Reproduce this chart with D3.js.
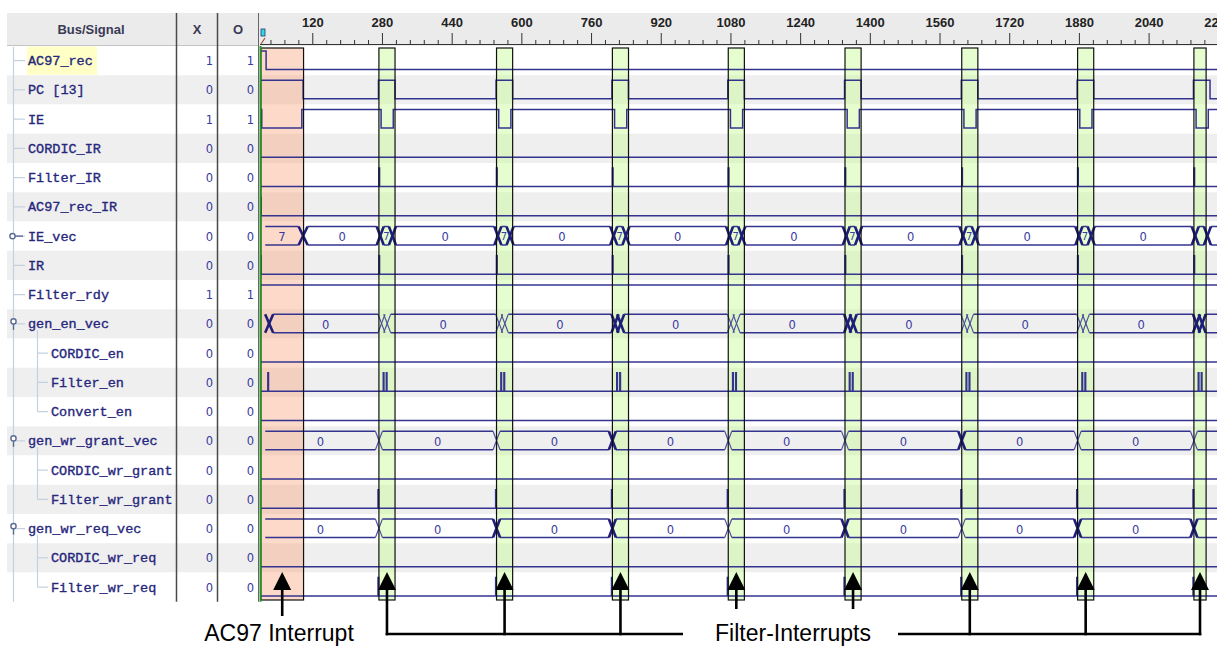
<!DOCTYPE html>
<html>
<head>
<meta charset="utf-8">
<script src="https://cdn.jsdelivr.net/npm/d3@7"></script>
<style>
  body { margin: 0; background: #fff; }
  svg { display: block; }
</style>
</head>
<body>
<div id="chart"></div>
<script>
const signalNames = ["AC97_rec", "PC [13]", "IE", "CORDIC_IR", "Filter_IR", "AC97_rec_IR", "IE_vec", "IR",
  "Filter_rdy", "gen_en_vec", "CORDIC_en", "Filter_en", "Convert_en", "gen_wr_grant_vec", "CORDIC_wr_grant",
  "Filter_wr_grant", "gen_wr_req_vec", "CORDIC_wr_req", "Filter_wr_req"];
const signalDepth = [0, 0, 0, 0, 0, 0, 0, 0, 0, 0, 1, 1, 1, 0, 1, 1, 0, 1, 1];
const xValues = [1, 0, 1, 0, 0, 0, 0, 0, 1, 0, 0, 0, 0, 0, 0, 0, 0, 0, 0];
const oValues = [1, 0, 1, 0, 0, 0, 0, 0, 1, 0, 0, 0, 0, 0, 0, 0, 0, 0, 0];
const rulerTicks = [120, 280, 440, 600, 760, 920, 1080, 1240, 1400, 1560, 1720, 1880, 2040, 2200];

// filter interrupt start times (sample units) and box lengths
const irqTimes = [273, 543, 809, 1075, 1343, 1611, 1877, 2144];
const irqBoxLen = [37, 37, 37, 37, 37, 37, 37, 28];
const ac97Span = [2, 100];

// which bus transitions render heavy in the capture
const enBold = [0, 0, 1, 0, 1, 0, 0, 1];
const grantBold = [0, 0, 1, 0, 0, 1, 0, 0];
const reqBold = [0, 1, 1, 0, 1, 0, 1, 1];

// ---- layout ----
const W = 1227, H = 646;
const left = 7, nameRight = 176, xRight = 217, oRight = 258;
const waveLeft = 260, waveRight = 1217;
const headTop = 13, headBottom = 46, rowH = 29.25;
const tableBottom = headBottom + rowH * signalNames.length;
const C = "#34348f";

const svg = d3.select("#chart").append("svg").attr("width", W).attr("height", H);

const x = d3.scaleLinear().domain([0, 2200]).range([waveLeft, 1218.3]);
const y = d3.scaleBand().domain(d3.range(signalNames.length)).range([headBottom, tableBottom]);

svg.append("defs").append("clipPath").attr("id", "wclip")
  .append("rect").attr("x", waveLeft).attr("y", 0).attr("width", waveRight - waveLeft).attr("height", H);

// header band
svg.append("rect").attr("x", left).attr("y", headTop).attr("width", waveRight - left).attr("height", headBottom - headTop)
  .attr("fill", "#ebebeb");
svg.append("line").attr("x1", left).attr("x2", oRight).attr("y1", headBottom - 0.5).attr("y2", headBottom - 0.5)
  .attr("stroke", "#c4c4c4");

// rows
svg.selectAll("rect.row").data(signalNames).join("rect").attr("class", "row")
  .attr("x", left).attr("y", (d, i) => y(i)).attr("width", waveRight - left).attr("height", rowH)
  .attr("fill", (d, i) => i % 2 ? "#efefef" : "#ffffff");

// header text
const head = svg.append("g").attr("font-family", "'Liberation Sans', Arial, sans-serif")
  .attr("font-weight", "bold").attr("font-size", 13).attr("fill", "#3a3a55").attr("text-anchor", "middle");
head.append("text").attr("x", 91).attr("y", 34).text("Bus/Signal");
head.append("text").attr("x", 197).attr("y", 34).text("X");
head.append("text").attr("x", 238).attr("y", 34).text("O");

// tree lines
const tree = svg.append("g").attr("stroke", "#c3d0de").attr("stroke-width", 1.2).attr("fill", "none");
tree.append("line").attr("x1", 13.5).attr("x2", 13.5).attr("y1", headBottom + 1).attr("y2", tableBottom);
signalNames.forEach((n, i) => {
  const cy = y(i) + rowH / 2;
  if (signalDepth[i] === 0) {
    tree.append("line").attr("x1", 13.5).attr("x2", 25).attr("y1", cy).attr("y2", cy);
  } else {
    tree.append("line").attr("x1", 37.5).attr("x2", 48).attr("y1", cy).attr("y2", cy);
  }
});
[[9, 12], [13, 15], [16, 18]].forEach(([p, last]) => {
  tree.append("line").attr("x1", 37.5).attr("x2", 37.5)
    .attr("y1", y(p) + rowH / 2 + 6).attr("y2", y(last) + rowH / 2);
});
// bus icons
const icon = svg.append("g").attr("stroke", "#5a6b94").attr("stroke-width", 1.4).attr("fill", "#fff");
icon.append("line").attr("x1", 15).attr("x2", 23).attr("y1", y(6) + rowH / 2).attr("y2", y(6) + rowH / 2);
icon.append("circle").attr("cx", 12.5).attr("cy", y(6) + rowH / 2).attr("r", 2.6);
[9, 13, 16].forEach(i => {
  const cy = y(i) + rowH / 2 - 2;
  icon.append("line").attr("x1", 13.5).attr("x2", 13.5).attr("y1", cy + 2).attr("y2", cy + 8);
  icon.append("circle").attr("cx", 13.5).attr("cy", cy - 0.5).attr("r", 2.6);
});

// highlight behind the selected name
svg.append("rect").attr("x", 27).attr("y", y(0) + 0.5).attr("width", 70).attr("height", rowH - 1).attr("fill", "#ffffc6");

// names
svg.append("g").selectAll("text").data(signalNames).join("text")
  .attr("x", (d, i) => signalDepth[i] ? 51 : 28)
  .attr("y", (d, i) => y(i) + 19)
  .attr("font-family", "'Liberation Mono', 'Courier New', monospace")
  .attr("font-size", 13.5).attr("fill", "#26267c")
  .attr("stroke", "#26267c").attr("stroke-width", 0.35)
  .text(d => d);

// X / O columns
const vals = svg.append("g").attr("font-family", "'DejaVu Sans', sans-serif").attr("font-size", 11.5)
  .attr("fill", "#3a3aa0").attr("text-anchor", "end");
vals.selectAll("text.xv").data(xValues).join("text").attr("class", "xv")
  .attr("x", 213).attr("y", (d, i) => y(i) + 19).text(d => d);
vals.selectAll("text.ov").data(oValues).join("text").attr("class", "ov")
  .attr("x", 254).attr("y", (d, i) => y(i) + 19).text(d => d);

// column separators
[nameRight, xRight].forEach(cx => {
  svg.append("line").attr("x1", cx + 0.5).attr("x2", cx + 0.5).attr("y1", headTop).attr("y2", tableBottom)
    .attr("stroke", "#4a4a4a").attr("stroke-width", 1.5);
});
svg.append("line").attr("x1", oRight + 0.5).attr("x2", oRight + 0.5).attr("y1", headTop).attr("y2", tableBottom)
  .attr("stroke", "#666").attr("stroke-width", 1);

// ---- ruler ----
const ruler = svg.append("g").attr("clip-path", "url(#wclip)");
const minorTicks = d3.range(24, 2230, 32).filter(t => !rulerTicks.includes(t));
ruler.append("g").attr("transform", "translate(0,44)")
  .call(d3.axisTop(x).tickValues(minorTicks).tickSize(4).tickFormat(""))
  .call(g => g.select(".domain").remove())
  .call(g => g.selectAll("line").attr("stroke", "#333"));
ruler.append("g").attr("transform", "translate(0,44)")
  .call(d3.axisTop(x).tickValues(rulerTicks).tickSize(11).tickPadding(6).tickFormat(d3.format("d")))
  .call(g => g.select(".domain").remove())
  .call(g => g.selectAll("line").attr("stroke", "#333"))
  .call(g => g.selectAll("text").attr("font-family", "'Liberation Sans', Arial, sans-serif")
    .attr("font-weight", "bold").attr("font-size", 13).attr("fill", "#222"));
ruler.append("line").attr("x1", waveLeft).attr("x2", waveRight).attr("y1", 44.5).attr("y2", 44.5)
  .attr("stroke", "#333").attr("stroke-width", 1.2);
// trigger cursor marker
svg.append("rect").attr("x", 261).attr("y", 29).attr("width", 4).attr("height", 7)
  .attr("fill", "#2fd8ea").attr("stroke", "#2a3a6a").attr("stroke-width", 0.8);
svg.append("line").attr("x1", 261).attr("x2", 265).attr("y1", 44).attr("y2", 38)
  .attr("stroke", "#a05030").attr("stroke-width", 1.2);

// ---- waveforms ----
const wave = svg.append("g").attr("clip-path", "url(#wclip)");

// highlight boxes (fill first, outline later)
const boxes = irqTimes.map((t, i) => [t, t + irqBoxLen[i]]);
const boxTop = 48, boxBottom = 600;
wave.append("rect").attr("x", x(ac97Span[0])).attr("y", boxTop).attr("width", x(ac97Span[1]) - x(ac97Span[0]))
  .attr("height", boxBottom - boxTop).attr("fill", "#f99f78").attr("fill-opacity", 0.4);
wave.selectAll("rect.irq").data(boxes).join("rect").attr("class", "irq")
  .attr("x", d => x(d[0])).attr("y", boxTop).attr("width", d => x(d[1]) - x(d[0])).attr("height", boxBottom - boxTop)
  .attr("fill", "#c8fb96").attr("fill-opacity", 0.45);

const pulse = ts => ts.flatMap(t => [t, t + 1.5]);
const bits = {
  "AC97_rec": { init: 1, edges: [14] },
  "PC [13]": { init: 1, edges: [99, ...irqTimes.flatMap(t => [t - 1, t + 37])] },
  "IE": { init: 1, edges: [4, 96, ...irqTimes.flatMap(t => [t + 5, t + 33])] },
  "CORDIC_IR": { init: 0, edges: [] },
  "Filter_IR": { init: 0, edges: pulse(irqTimes) },
  "AC97_rec_IR": { init: 0, edges: pulse([1]) },
  "IR": { init: 0, edges: pulse([1, ...irqTimes]) },
  "Filter_rdy": { init: 1, edges: [] },
  "CORDIC_en": { init: 0, edges: [] },
  "Filter_en": { init: 0, edges: pulse([18, ...irqTimes.flatMap(t => [t + 10, t + 17])]) },
  "Convert_en": { init: 0, edges: [] },
  "CORDIC_wr_grant": { init: 0, edges: [] },
  "Filter_wr_grant": { init: 0, edges: pulse(irqTimes.map(t => t - 2)) },
  "CORDIC_wr_req": { init: 0, edges: [] },
  "Filter_wr_req": { init: 0, edges: pulse(irqTimes.map(t => t - 2)) }
};
const buses = {
  "IE_vec": { start: 12, label: "7", trans: [{ t: 99, v: "0", bold: 1, hw: 4.5 },
    ...irqTimes.flatMap(t => [{ t: t + 3, v: "7", bold: 1 }, { t: t + 31, v: "0", bold: 1 }])] },
  "gen_en_vec": { start: 12, label: "", trans: [{ t: 21, v: "0", bold: 1, hw: 4 },
    ...irqTimes.flatMap((t, i) => [{ t: t + 6, v: "", bold: enBold[i] }, { t: t + 19, v: "0", bold: enBold[i] }])] },
  "gen_wr_grant_vec": { start: 12, label: "0", trans: irqTimes.map((t, i) => ({ t: t, v: "0", bold: grantBold[i] })) },
  "gen_wr_req_vec": { start: 12, label: "0", trans: irqTimes.map((t, i) => ({ t: t, v: "0", bold: reqBold[i] })) }
};

const line = d3.line();
signalNames.forEach((name, i) => {
  const top = y(i), hi = top + 5, lo = top + 23.5;
  if (bits[name]) {
    const b = bits[name];
    let lv = b.init;
    const lvY = v => v ? hi : lo;
    const pts = [[x(0), lvY(lv)]];
    b.edges.forEach(e => {
      pts.push([x(e), lvY(lv)]);
      lv = 1 - lv;
      pts.push([x(e), lvY(lv)]);
    });
    pts.push([x(2300), lvY(lv)]);
    wave.append("path").attr("d", line(pts)).attr("fill", "none").attr("stroke", C).attr("stroke-width", 1.5);
  } else if (buses[name]) {
    const b = buses[name];
    const bounds = [{ x: x(b.start), hw: 0, v: b.label }]
      .concat(b.trans.map(d => ({ x: x(d.t), hw: d.hw || 3.5, v: d.v, bold: d.bold })))
      .concat([{ x: x(2300), hw: 0 }]);
    const g = wave.append("g");
    bounds.forEach((d, k) => {
      if (k === bounds.length - 1) return;
      const n = bounds[k + 1];
      const x0 = d.x + d.hw, x1 = n.x - n.hw;
      if (x1 > x0) {
        [hi, lo].forEach(yy => g.append("line").attr("x1", x0).attr("x2", x1).attr("y1", yy).attr("y2", yy)
          .attr("stroke", C).attr("stroke-width", 1.5));
      }
      // value label
      const visR = Math.min(x1, waveRight);
      if (d.v && visR - x0 > 4 && n.x < waveRight - 12) {
        const small = visR - x0 < 14;
        g.append("text").attr("x", (x0 + visR) / 2).attr("y", top + (small ? 18.5 : 19.5))
          .attr("text-anchor", "middle").attr("font-family", "'DejaVu Sans', sans-serif")
          .attr("font-size", small ? 10 : 11.5).attr("fill", "#3a3aa0").text(d.v);
      }
      if (k > 0) {
        const sw = d.bold ? 2.6 : 1.1, col = d.bold ? "#1e1e7a" : "#4b4b9e";
        g.append("line").attr("x1", d.x - d.hw).attr("y1", hi).attr("x2", d.x + d.hw).attr("y2", lo)
          .attr("stroke", col).attr("stroke-width", sw);
        g.append("line").attr("x1", d.x - d.hw).attr("y1", lo).attr("x2", d.x + d.hw).attr("y2", hi)
          .attr("stroke", col).attr("stroke-width", sw);
      }
    });
  }
});

// box outlines
wave.append("rect").attr("x", x(ac97Span[0])).attr("y", boxTop).attr("width", x(ac97Span[1]) - x(ac97Span[0]))
  .attr("height", boxBottom - boxTop).attr("fill", "none").attr("stroke", "#111").attr("stroke-width", 1.2);
wave.selectAll("rect.irqo").data(boxes).join("rect").attr("class", "irqo")
  .attr("x", d => x(d[0])).attr("y", boxTop).attr("width", d => x(d[1]) - x(d[0])).attr("height", boxBottom - boxTop)
  .attr("fill", "none").attr("stroke", "#111").attr("stroke-width", 1.2);

// trigger line
svg.append("line").attr("x1", waveLeft + 0.5).attr("x2", waveLeft + 0.5).attr("y1", headBottom).attr("y2", tableBottom)
  .attr("stroke", "#1f9a1f").attr("stroke-width", 2);

// ---- annotations ----
const ann = svg.append("g");
const tipY = 572, baseY = 590, busY = 634;
const arrow = (ax, endY) => {
  ann.append("line").attr("x1", ax).attr("x2", ax).attr("y1", baseY - 2).attr("y2", endY)
    .attr("stroke", "#000").attr("stroke-width", 2.6);
  ann.append("path").attr("d", `M${ax},${tipY}L${ax - 9},${baseY}L${ax + 9},${baseY}Z`).attr("fill", "#000");
};
const acX = (x(ac97Span[0]) + x(ac97Span[1])) / 2;
arrow(acX, 616);
const irqX = boxes.map(d => (x(d[0]) + x(d[1])) / 2);
irqX.forEach((ax, i) => arrow(ax, (i === 3 || i === 4) ? 609 : busY + 1.3));
ann.append("line").attr("x1", irqX[0] - 1.3).attr("x2", 683).attr("y1", busY).attr("y2", busY)
  .attr("stroke", "#000").attr("stroke-width", 2.6);
ann.append("line").attr("x1", 898).attr("x2", irqX[irqX.length - 1] + 1.3).attr("y1", busY).attr("y2", busY)
  .attr("stroke", "#000").attr("stroke-width", 2.6);
ann.append("text").attr("x", 279).attr("y", 641).attr("text-anchor", "middle")
  .attr("font-family", "'Liberation Sans', Arial, sans-serif").attr("font-size", 23).attr("fill", "#000")
  .text("AC97 Interrupt");
ann.append("text").attr("x", 793).attr("y", 641).attr("text-anchor", "middle")
  .attr("font-family", "'Liberation Sans', Arial, sans-serif").attr("font-size", 23).attr("fill", "#000")
  .text("Filter-Interrupts");
</script>
</body>
</html>
